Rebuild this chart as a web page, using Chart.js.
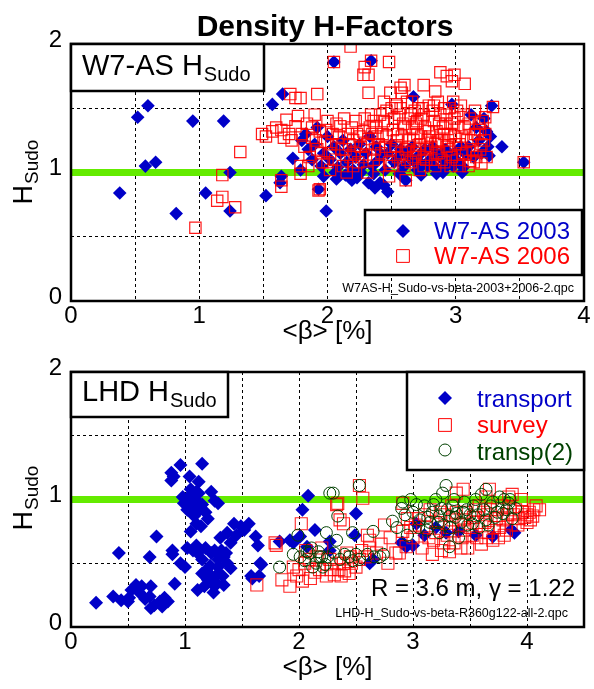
<!DOCTYPE html>
<html><head><meta charset="utf-8">
<script src="https://cdn.jsdelivr.net/npm/chart.js@4.4.1/dist/chart.umd.min.js"></script>
<style>
html,body{margin:0;padding:0;background:#fff;}
#wrap{position:relative;width:594px;height:689px;overflow:hidden;}
canvas{position:absolute;left:0;top:0;}
</style></head><body>
<div id="wrap"><canvas id="c1" width="594" height="689"></canvas><canvas id="c2" width="594" height="689"></canvas></div>
<script>
// ---------- data (beta [%], H_Sudo) ----------
const xTickLabelsTop = [0, 1, 2, 3, 4];
const xTickLabelsBottom = [0, 1, 2, 3, 4];
const yTickLabels = [0, 1, 2];

const w7as2003 = [
 [0.38,0.84],[0.52,1.43],[0.60,1.52],[0.58,1.05],[0.66,1.08],[0.82,0.68],[0.95,1.40],[1.05,0.84],
 [1.19,1.40],[1.24,1.00],[1.24,0.70],[1.52,0.82],[1.57,1.53],[1.65,1.61],[1.73,1.11],[1.64,0.97],
 [1.63,0.92],[1.79,1.02],[1.93,0.87],[1.99,0.70],[2.05,1.86],[2.34,1.87],[1.97,0.97],[2.47,0.85],
 [2.41,0.92],[2.32,0.92],[2.19,0.94],[2.61,0.94],[2.90,1.00],[3.28,1.52],[3.27,1.28],[3.26,1.13],
 [3.36,1.20],[3.53,1.08],[2.67,1.59],[2.97,1.53],
 [1.80,1.25],[1.83,1.30],[1.85,1.18],[1.88,1.10],[1.90,1.22],[1.92,1.35],[1.95,1.05],[1.97,1.15],
 [2.00,1.28],[2.02,1.10],[2.05,1.20],[2.08,1.04],[2.10,1.15],[2.12,1.25],[2.15,1.08],[2.18,1.18],
 [2.20,1.02],[2.22,1.12],[2.25,1.22],[2.28,1.06],[2.30,1.15],[2.33,1.28],[2.35,1.05],[2.38,1.20],
 [2.40,1.10],[2.42,1.14],[2.45,1.02],[2.47,1.15],[2.50,1.22],[2.52,1.08],[2.55,1.12],[2.57,1.18],
 [2.60,1.05],[2.62,1.16],[2.64,1.12],[2.66,1.20],[2.68,1.08],[2.70,1.02],[2.72,1.14],[2.74,1.06],
 [2.76,1.18],[2.78,1.05],[2.80,1.10],[2.82,1.20],[2.84,1.04],[2.86,1.14],[2.88,1.02],[2.90,1.10],
 [2.92,1.18],[2.94,1.06],[2.96,1.12],[2.98,1.05],[3.00,1.16],[3.02,1.08],[3.04,1.20],[3.06,1.04],
 [3.08,1.14],[3.10,1.20],[3.12,1.45],[3.14,1.12],[3.16,1.35],[3.18,1.25],[3.20,1.15],[3.22,1.42],
 [3.24,1.32],[3.25,1.20],[2.06,1.00],[2.14,0.98],[2.26,1.00],[2.36,0.99],[2.56,0.99],[2.73,0.98],
 [2.85,0.99],[3.05,1.00],[2.07,0.95],[2.23,0.96],[2.44,0.90],[2.37,0.88]
];
const w7as2006 = [
 [0.97,0.57],[1.14,0.78],[1.18,0.81],[1.28,0.73],[1.18,0.98],[1.32,1.16],[1.49,1.30],[1.57,1.32],
 [1.64,1.33],[1.71,1.61],[1.79,1.58],[1.92,1.61],[1.77,1.44],[1.68,1.41],[1.66,1.27],[1.79,1.05],
 [1.79,0.99],[1.64,0.89],[1.64,0.94],[1.94,0.87],[2.18,1.98],[2.05,1.86],[2.34,1.87],[2.48,1.86],
 [2.29,1.82],[2.32,1.76],[2.28,1.76],[2.32,1.62],[1.75,1.58],[2.49,1.62],[2.57,1.66],[2.60,1.68],
 [2.75,1.68],[2.84,1.63],[2.88,1.78],[2.93,1.75],[2.99,1.76],[3.07,1.69],[2.97,1.71],[3.29,1.51],
 [3.23,1.43],[3.19,1.33],[3.16,1.12],[3.20,1.07],[3.11,1.09],[3.53,1.08],[1.93,0.86],[2.61,0.94],
 [2.75,1.12],[2.72,1.02],[2.48,0.97],[2.31,1.00],[2.15,1.00],[2.02,1.02],
 [1.52,1.28],[1.60,1.35],[1.70,1.30],[1.75,1.36],[1.72,1.25],
 [1.80,1.30],[1.82,1.20],[1.84,1.38],[1.86,1.12],[1.88,1.27],[1.90,1.45],[1.92,1.18],[1.94,1.32],
 [1.96,1.08],[1.98,1.24],[2.00,1.40],[2.02,1.15],[2.04,1.30],[2.06,1.10],[2.08,1.22],[2.10,1.36],
 [2.12,1.05],[2.14,1.18],[2.16,1.30],[2.18,1.12],[2.20,1.25],[2.22,1.40],[2.24,1.08],[2.26,1.20],
 [2.28,1.32],[2.30,1.14],[2.32,1.26],[2.34,1.45],[2.36,1.10],[2.38,1.35],[2.40,1.22],[2.42,1.15],
 [2.44,1.40],[2.46,1.28],[2.48,1.08],[2.50,1.50],[2.51,1.33],[2.53,1.20],[2.55,1.12],[2.56,1.45],
 [2.58,1.28],[2.59,1.38],[2.61,1.18],[2.62,1.55],[2.64,1.25],[2.65,1.08],[2.66,1.35],[2.68,1.48],
 [2.69,1.15],[2.70,1.30],[2.72,1.22],[2.73,1.42],[2.75,1.05],[2.76,1.35],[2.77,1.18],[2.79,1.52],
 [2.80,1.28],[2.81,1.10],[2.83,1.40],[2.84,1.22],[2.85,1.32],[2.87,1.15],[2.88,1.45],[2.89,1.25],
 [2.91,1.08],[2.92,1.38],[2.93,1.20],[2.95,1.50],[2.96,1.30],[2.97,1.12],[2.99,1.42],[3.00,1.22],
 [3.02,1.35],[3.03,1.05],[3.05,1.28],[3.06,1.45],[3.08,1.15],[3.10,1.38],[3.12,1.25],[3.14,1.08],
 [3.15,1.48],[3.17,1.30],[3.19,1.18],[3.21,1.40],[3.22,1.25],[3.24,1.12],[2.60,1.05],[2.70,1.40],
 [2.90,1.35],[2.55,1.30],[2.45,1.20],[2.35,1.30],[2.25,1.28],[2.67,1.25],[2.78,1.25],[2.86,1.25],
 [2.94,1.25],[3.01,1.10],[2.63,1.42],[2.74,1.50],[2.82,1.48],[2.98,1.55],
 [1.85,1.05],[1.88,1.35],[1.91,1.25],[1.95,1.15],[1.99,1.33],[2.03,1.22],[2.07,1.38],[2.09,1.28],
 [2.11,1.18],[2.13,1.42],[2.17,1.22],[2.19,1.35],[2.21,1.15],[2.23,1.30],[2.27,1.12],[2.29,1.42],
 [2.31,1.22],[2.33,1.35],[2.37,1.18],[2.39,1.28],[2.41,1.45],[2.43,1.30],[2.47,1.38],[2.49,1.18],
 [2.52,1.42],[2.54,1.25],[2.57,1.50],[2.58,1.15],[2.60,1.35],[2.63,1.20],[2.65,1.45],[2.67,1.12],
 [2.69,1.38],[2.71,1.18],[2.73,1.28],[2.75,1.45],[2.77,1.10],[2.79,1.32],[2.81,1.20],[2.83,1.52],
 [2.85,1.15],[2.87,1.38],[2.89,1.10],[2.91,1.30],[2.93,1.45],[2.95,1.18],[2.97,1.38],[2.99,1.28],
 [3.01,1.48],[3.03,1.22],[3.05,1.15],[3.07,1.35],[3.09,1.25],[3.11,1.42],[3.13,1.18],[3.15,1.30],
 [3.18,1.38],[3.20,1.22],[3.23,1.30],[2.50,1.05],[2.62,1.10],[2.84,1.05],[2.96,1.05],[3.10,1.05],
 [2.40,1.05],[2.20,1.05],[2.00,1.08],[2.36,1.40],[2.46,1.48],[2.54,1.52],[2.66,1.55],[2.71,1.50],
 [2.86,1.55],[2.91,1.50],[3.04,1.52],[2.58,1.62],[2.44,1.55]
];

const lhdTransport = [
 [0.22,0.19],[0.37,0.24],[0.44,0.21],[0.51,0.23],[0.53,0.29],[0.57,0.33],[0.60,0.27],[0.50,0.20],
 [0.70,0.32],[0.69,0.24],[0.73,0.17],[0.70,0.15],[0.80,0.16],[0.85,0.20],[0.91,0.34],[0.42,0.58],
 [0.69,0.55],[0.75,0.71],[0.89,0.60],[0.89,0.57],[0.96,0.50],[1.00,0.47],[0.88,1.21],[0.88,1.15],
 [0.90,1.18],[0.96,1.27],[1.15,1.28],[1.04,1.18],[1.12,1.14],[1.05,1.08],[1.10,1.06],[1.23,1.06],
 [1.29,0.97],[1.26,0.99],[0.99,0.97],[1.02,0.92],[1.07,0.95],[1.11,0.98],[1.15,0.96],[1.08,0.87],
 [1.10,0.81],[1.14,0.79],[1.10,0.64],[1.07,0.60],[1.11,0.58],[1.15,0.53],[1.23,0.58],[1.26,0.60],
 [1.29,0.53],[1.34,0.55],[1.15,0.42],[1.20,0.37],[1.23,0.40],[1.29,0.42],[1.33,0.40],[1.11,0.29],
 [1.17,0.32],[1.26,0.32],[1.34,0.33],[1.29,0.47],[1.37,0.50],[1.31,0.70],[1.37,0.74],[1.43,0.81],
 [1.49,0.79],[1.40,0.66],[1.36,0.58],[1.56,0.81],[1.62,0.71],[1.64,0.64],[1.67,0.49],[1.59,0.38],
 [1.65,0.40],[2.08,1.03],[2.03,0.92],[2.14,0.76],[1.92,0.68],[1.95,0.66],[2.01,0.71],[2.07,0.63],
 [1.66,0.50],[1.58,0.40],[2.50,0.89],[2.49,0.72],[1.83,0.67],[2.27,0.67],[2.27,0.60],[2.62,0.50],
 [2.65,0.53],[2.90,0.66],[2.94,0.63],[3.89,0.74],[3.86,0.76],[3.70,0.71],[3.29,0.74],[3.03,0.81],
 [2.91,0.66],[3.00,0.64],[1.03,1.02],[1.08,1.01],[1.13,0.92],[3.10,0.72],[3.20,0.78],[3.40,0.75],
 [3.55,0.72],
 [0.98,1.02],[1.06,0.98],[1.12,1.05],[1.18,0.90],[1.20,0.85],[1.05,0.75],[1.18,0.62],[1.22,0.48],
 [1.27,0.35],[1.32,0.60],[1.40,0.46],[1.45,0.72],[1.52,0.76],[0.62,0.32],[0.65,0.22],[0.78,0.20],
 [0.82,0.23],[1.19,0.45],[1.25,0.27],[1.02,0.62]
];
const lhdSurvey = [
 [1.80,0.64],[2.02,0.81],[1.85,0.37],[1.92,0.32],[2.03,0.36],[1.95,0.47],[2.05,0.50],[1.63,0.33],
 [1.79,0.66],[2.34,0.97],[2.56,1.01],[2.53,1.11],[2.36,0.84],[2.18,0.45],[2.24,0.40],[2.31,0.41],
 [2.37,0.40],[2.44,0.42],[2.62,0.68],[2.62,0.62],[2.78,0.50],[2.85,0.58],[2.91,0.75],[2.91,0.97],
 [2.06,0.60],[2.09,0.53],[2.27,0.53],[2.33,0.50],[2.39,0.50],[2.50,0.47],[2.53,0.53],[2.33,0.96],
 [2.39,0.81],[3.17,0.57],[3.32,0.59],[2.88,0.58],[2.94,0.63],[3.84,1.02],[3.87,1.04],[3.95,1.00],
 [4.08,0.95],[4.11,0.92],[4.05,0.87],[4.03,0.84],[4.00,0.88],[3.67,1.08],[3.64,1.02],[3.44,1.08],
 [3.38,1.05],
 [3.00,0.70],[3.05,0.85],[3.08,0.62],[3.12,0.78],[3.15,0.92],[3.18,0.68],[3.22,0.82],[3.25,0.60],
 [3.28,0.88],[3.30,0.72],[3.34,0.95],[3.36,0.66],[3.40,0.80],[3.43,0.70],[3.46,0.90],[3.48,0.62],
 [3.50,0.78],[3.53,0.86],[3.56,0.70],[3.58,0.95],[3.60,0.65],[3.63,0.82],[3.66,0.74],[3.68,0.92],
 [3.70,0.68],[3.73,0.85],[3.76,0.78],[3.78,0.95],[3.80,0.72],[3.83,0.88],[3.86,0.80],[3.90,0.92],
 [3.93,0.85],[3.96,0.90],[4.00,0.82],[3.20,0.74],[3.35,0.84],[3.45,0.76],[3.55,0.92],[3.65,0.88],
 [3.75,0.70],[3.85,0.94],
 [2.45,0.55],[2.55,0.60],[2.60,0.72],[2.68,0.58],[2.72,0.65],[2.75,0.80],[2.80,0.70],[2.95,0.85],
 [2.98,0.78],[2.20,0.62],[2.15,0.55],[2.42,0.58],
 [3.02,0.80],[3.10,0.88],[3.14,0.70],[3.24,0.90],[3.27,0.66],[3.32,0.78],[3.38,0.90],[3.42,0.62],
 [3.44,0.84],[3.52,0.72],[3.57,0.82],[3.62,0.90],[3.64,0.70],[3.71,0.78],[3.74,0.92],[3.79,0.84],
 [3.82,0.76],[3.88,0.88],[3.92,0.80],[3.98,0.86],[4.02,0.90],[4.06,0.92],[1.98,0.40],[2.10,0.38],
 [2.14,0.43],[2.28,0.45],[2.35,0.45],[2.46,0.50],[2.58,0.55],[2.40,0.44],[2.00,0.45]
];
const lhdTransp2 = [
 [2.53,1.11],[2.27,1.05],[2.34,0.87],[2.65,0.75],[2.47,0.74],[2.33,0.68],[2.82,0.83],[2.90,0.93],
 [2.91,0.98],[1.83,0.47],[1.95,0.57],[2.01,0.55],[2.07,0.59],[2.11,0.62],[2.17,0.59],[2.20,0.55],
 [2.23,0.49],[2.12,0.47],[2.31,0.58],[2.36,0.53],[2.44,0.55],[2.50,0.57],[2.53,0.53],[2.71,0.55],
 [2.74,0.57],[2.30,1.05],[2.24,0.74],[1.99,0.72],[2.09,0.58],[2.18,0.55],[2.15,0.50],[2.21,0.47],
 [3.29,1.11],[2.98,1.00],[3.17,0.90],[3.23,0.87],[3.32,0.87],[3.38,0.89],[3.64,1.08],[3.60,1.04],
 [3.76,1.02],[3.84,0.97],[3.90,0.93],[3.79,0.89],[3.64,0.84],[3.52,0.81],[3.32,0.63],[3.23,0.74],
 [3.12,0.76],[3.06,0.84],
 [3.00,0.90],[3.10,0.95],[3.15,0.82],[3.20,1.00],[3.27,0.80],[3.35,0.95],[3.42,0.82],[3.45,0.98],
 [3.50,0.88],[3.55,1.00],[3.58,0.78],[3.68,0.95],[3.72,0.86],[3.80,1.00],[3.87,0.85],[3.40,0.70],
 [3.47,0.92],[2.95,0.72],[2.86,0.78],[3.03,0.96],[3.25,0.93],
 [3.05,0.78],[3.13,0.86],[3.18,0.96],[3.22,0.82],[3.30,0.92],[3.33,0.78],[3.37,0.86],[3.44,0.90],
 [3.48,0.80],[3.53,0.95],[3.57,0.88],[3.62,0.92],[3.66,0.80],[3.70,0.98],[3.74,0.90],[3.82,0.92],
 [3.85,1.00],[3.36,1.00],[3.26,1.05],[2.93,0.88],[2.05,0.52],[2.25,0.55],[2.40,0.57],[2.47,0.52],
 [2.60,0.57],[2.66,0.55]
];

// ---------- styling ----------
const FONT = "'Liberation Sans', Arial, Helvetica, sans-serif";
const BLUE = 'rgb(0,0,200)';
const RED = 'rgb(255,0,0)';
const DKGREEN = 'rgb(0,64,0)';

function toPoints(pairs){ return pairs.map(p => ({x: p[0], y: p[1]})); }

function buildOptions(p){
  const gridCommon = {color:'#000', lineWidth:1, drawTicks:false};
  const borderCommon = {display:false, dash:[3,3]};
  return {
    responsive:false, maintainAspectRatio:false, animation:false, devicePixelRatio:1, events:[],
    layout:{padding:{top:p.top, right:10, left:0, bottom:p.padBottom}},
    plugins:{legend:{display:false}, tooltip:{enabled:false}, title:{display:false}},
    scales:{
      x:{type:'linear', position:'bottom', min:0, max:p.xMax,
        afterFit(s){ s.height = p.xAxisH; },
        ticks:{stepSize:0.5, autoSkip:false, maxRotation:0, padding:p.xTickPad, color:'#000',
          font:{family:FONT, size:24, lineHeight:1},
          callback:(v)=> p.xLabels.includes(v) ? String(v) : ''},
        grid:gridCommon, border:borderCommon,
        title:{display:true, text:'<β> [%]', color:'#000', font:{family:FONT, size:26, lineHeight:1},
          padding:{top:0, bottom:p.xTitlePad}}
      },
      y:{type:'linear', min:0, max:2,
        afterFit(s){ s.width = 71; },
        ticks:{stepSize:0.5, autoSkip:false, padding:9, labelOffset:-4, color:'#000',
          font:{family:FONT, size:24, lineHeight:1},
          callback:(v)=> yTickLabels.includes(v) ? String(v) : ''},
        grid:gridCommon, border:borderCommon
      }
    }
  };
}

function drawGreen(chart){
  const {ctx, chartArea:a, scales:{y}} = chart;
  const py = y.getPixelForValue(1);
  ctx.save();
  ctx.fillStyle = 'rgb(100,235,0)';
  ctx.fillRect(a.left, py - 3.5, a.right - a.left, 7);
  ctx.restore();
}
function strokeBox(ctx, x0, y0, x1, y1){
  ctx.save();
  ctx.beginPath();
  ctx.setLineDash([]);
  ctx.strokeStyle = '#000'; ctx.lineWidth = 2.5;
  ctx.rect(x0, y0, x1-x0, y1-y0);
  ctx.stroke();
  ctx.restore();
}
function drawFrame(chart){
  const a = chart.chartArea;
  strokeBox(chart.ctx, a.left, a.top, a.right, a.bottom);
}
function fillBox(ctx, x0, y0, x1, y1){
  ctx.save();
  ctx.fillStyle = '#fff'; ctx.fillRect(x0, y0, x1-x0, y1-y0);
  ctx.restore();
}
function drawLabelWithSub(ctx, main, x, y, bigSize, subSize, drop){
  ctx.font = bigSize + 'px ' + FONT;
  ctx.textAlign = 'left'; ctx.textBaseline = 'alphabetic';
  ctx.fillText(main, x, y);
  const w = ctx.measureText(main).width;
  ctx.font = subSize + 'px ' + FONT;
  ctx.fillText('Sudo', x + w + 1, y + drop);
}
function drawYTitle(ctx, cy){
  ctx.save();
  ctx.fillStyle = '#000';
  ctx.font = '27px ' + FONT;
  const wH = ctx.measureText('H').width;
  ctx.font = '19px ' + FONT;
  const wS = ctx.measureText('Sudo').width;
  const total = wH + 1 + wS;
  ctx.translate(32, cy + total/2);
  ctx.rotate(-Math.PI/2);
  drawLabelWithSub(ctx, 'H', 0, 0, 27, 19, 6);
  ctx.restore();
}
function legendMarker(ctx, style, x, y, r, fill, stroke, bw){
  ctx.save();
  ctx.fillStyle = fill; ctx.strokeStyle = stroke; ctx.lineWidth = bw;
  Chart.helpers.drawPoint(ctx, {pointStyle:style, radius:r, borderWidth:bw}, x, y);
  ctx.restore();
}

const topDecor = {
  id:'topDecor',
  beforeDatasetsDraw(chart){ drawGreen(chart); },
  afterDatasetsDraw(chart){ drawFrame(chart); },
  afterDraw(chart){
    const ctx = chart.ctx;
    ctx.save();
    ctx.fillStyle = '#000';
    ctx.font = 'bold 30px ' + FONT; ctx.textAlign = 'center'; ctx.textBaseline = 'alphabetic';
    ctx.fillText('Density H-Factors', 325, 36);
    fillBox(ctx, 71, 44, 264, 91);
    ctx.fillStyle = '#000';
    drawLabelWithSub(ctx, 'W7-AS H', 82, 75, 29, 20, 6);
    strokeBox(ctx, 71, 44, 264, 91);
    fillBox(ctx, 365, 210, 582, 275);
    legendMarker(ctx, 'rectRot', 403, 231, 7, BLUE, BLUE, 0);
    legendMarker(ctx, 'rect', 403, 256, 9, 'rgba(0,0,0,0)', RED, 1);
    ctx.font = '24px ' + FONT; ctx.textAlign = 'left'; ctx.textBaseline = 'alphabetic';
    ctx.fillStyle = BLUE; ctx.fillText('W7-AS 2003', 434, 239);
    ctx.fillStyle = RED; ctx.fillText('W7-AS 2006', 434, 264);
    strokeBox(ctx, 365, 210, 582, 275);
    ctx.fillStyle = '#000'; ctx.font = '12.5px ' + FONT; ctx.textAlign = 'right';
    ctx.fillText('W7AS-H_Sudo-vs-beta-2003+2006-2.qpc', 574, 292);
    ctx.restore();
    drawYTitle(ctx, 172);
  }
};

const bottomDecor = {
  id:'bottomDecor',
  beforeDatasetsDraw(chart){ drawGreen(chart); },
  afterDatasetsDraw(chart){ drawFrame(chart); },
  afterDraw(chart){
    const ctx = chart.ctx;
    ctx.save();
    fillBox(ctx, 71, 372, 228, 417);
    ctx.fillStyle = '#000';
    drawLabelWithSub(ctx, 'LHD H', 82, 401, 29, 20, 6);
    strokeBox(ctx, 71, 372, 228, 417);
    fillBox(ctx, 407, 372, 584, 470);
    legendMarker(ctx, 'rectRot', 445, 398, 7, BLUE, BLUE, 0);
    legendMarker(ctx, 'rect', 445, 425, 9, 'rgba(0,0,0,0)', RED, 1);
    legendMarker(ctx, 'circle', 445, 450, 6, 'rgba(0,0,0,0)', DKGREEN, 1);
    ctx.font = '24px ' + FONT; ctx.textAlign = 'left'; ctx.textBaseline = 'alphabetic';
    ctx.fillStyle = BLUE; ctx.fillText('transport', 477, 407);
    ctx.fillStyle = RED; ctx.fillText('survey', 477, 433);
    ctx.fillStyle = DKGREEN; ctx.fillText('transp(2)', 477, 460);
    strokeBox(ctx, 407, 372, 584, 470);
    ctx.fillStyle = '#000'; ctx.textAlign = 'right';
    ctx.font = '24px ' + FONT;
    ctx.fillText('R = 3.6 m, \u03B3 = 1.22', 575, 596);
    ctx.font = '12.5px ' + FONT;
    ctx.fillText('LHD-H_Sudo-vs-beta-R360g122-all-2.qpc', 568, 617);
    ctx.restore();
    drawYTitle(ctx, 498);
  }
};

new Chart(document.getElementById('c1'), {
  type:'scatter',
  data:{datasets:[
    {label:'W7-AS 2003', data:toPoints(w7as2003), pointStyle:'rectRot', pointRadius:6.8,
      backgroundColor:BLUE, borderColor:BLUE, borderWidth:0, order:2},
    {label:'W7-AS 2006', data:toPoints(w7as2006), pointStyle:'rect', pointRadius:8,
      backgroundColor:'rgba(0,0,0,0)', borderColor:'rgba(255,0,0,0.9)', borderWidth:1.2, order:1}
  ]},
  options: buildOptions({top:44, padBottom:344, xAxisH:44, xMax:4, xLabels:xTickLabelsTop, xTickPad:3, xTitlePad:0}),
  plugins:[topDecor]
});

new Chart(document.getElementById('c2'), {
  type:'scatter',
  data:{datasets:[
    {label:'transport', data:toPoints(lhdTransport), pointStyle:'rectRot', pointRadius:7,
      backgroundColor:BLUE, borderColor:BLUE, borderWidth:0, order:3},
    {label:'survey', data:toPoints(lhdSurvey), pointStyle:'rect', pointRadius:8.5,
      backgroundColor:'rgba(0,0,0,0)', borderColor:'rgba(255,0,0,0.85)', borderWidth:1.1, order:2},
    {label:'transp(2)', data:toPoints(lhdTransp2), pointStyle:'circle', pointRadius:6,
      backgroundColor:'rgba(0,0,0,0)', borderColor:DKGREEN, borderWidth:1, order:1}
  ]},
  options: buildOptions({top:372, padBottom:0, xAxisH:62, xMax:4.5, xLabels:xTickLabelsBottom, xTickPad:3, xTitlePad:8}),
  plugins:[bottomDecor]
});
</script>
</body></html>
